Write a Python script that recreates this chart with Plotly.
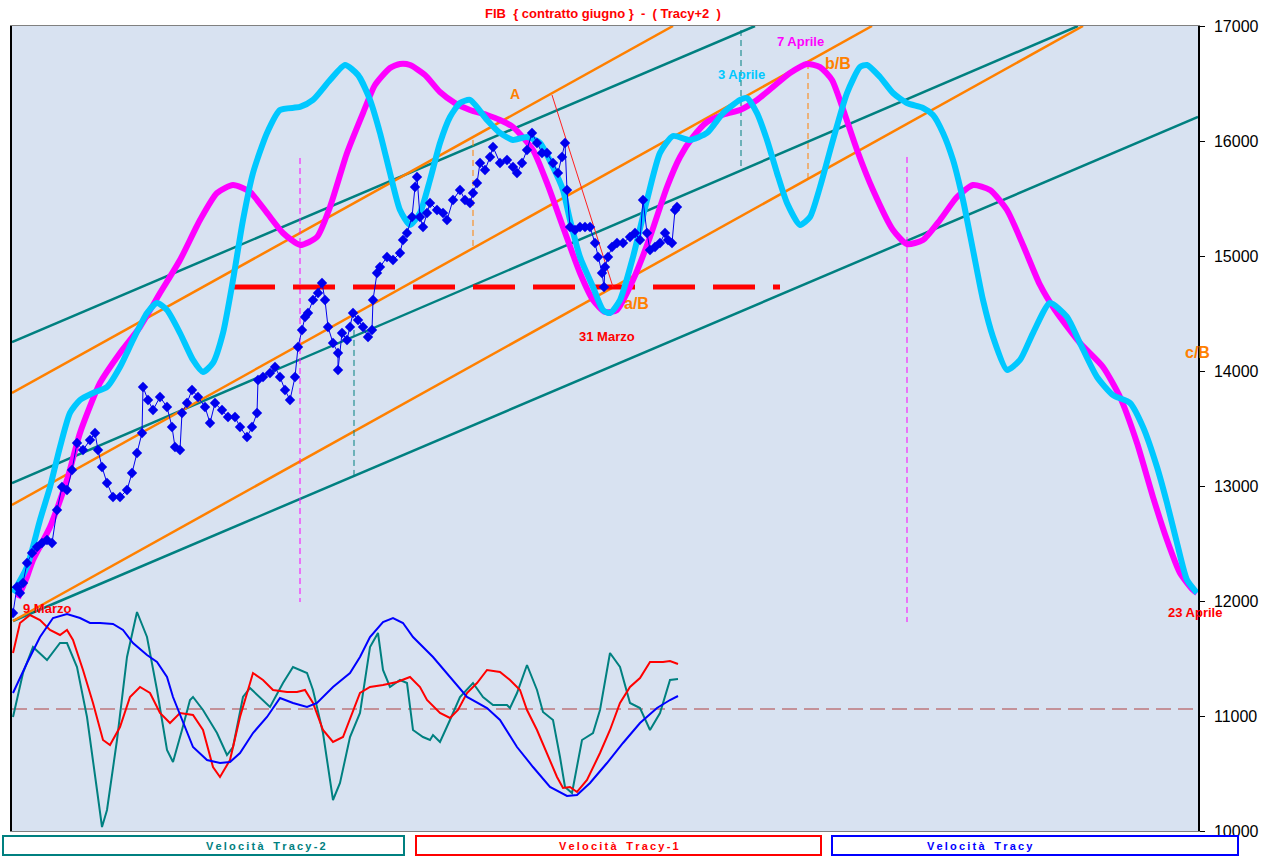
import plotly.graph_objects as go

# ---------------- data (x = session index along the chart, y = price) ----------------
mag_x = [18, 27, 33, 50, 67, 80, 100, 120, 140, 160, 180, 200, 217, 233, 250, 267, 283, 300, 317, 330,
         347, 363, 375, 390, 400, 410, 425, 440, 455, 470, 487, 500, 513, 533, 547, 563, 580, 593, 605, 617,
         633, 650, 667, 680, 693, 707, 725, 740, 757, 773, 790, 807, 820, 832, 845, 857, 873, 893, 907, 923,
         940, 957, 973, 990, 1007, 1023, 1040, 1055, 1080, 1103, 1120, 1137, 1153, 1167, 1180, 1193, 1197]
mag_y = [12026, 12209, 12357, 12643, 13052, 13461, 13896, 14157, 14383, 14678, 14965, 15313, 15548, 15617, 15557,
         15374, 15200, 15096, 15165, 15426, 15896, 16243, 16487, 16635, 16670, 16661, 16574, 16426, 16330, 16270,
         16226, 16183, 16122, 15922, 15635, 15252, 14852, 14617, 14513, 14530, 14791, 15165, 15600, 15861, 16035,
         16165, 16235, 16270, 16357, 16470, 16591, 16670, 16643, 16530, 16226, 15922, 15574, 15226, 15104, 15139,
         15313, 15513, 15617, 15574, 15400, 15096, 14748, 14530, 14243, 14035, 13774, 13374, 12904, 12530, 12243,
         12096, 12070]

cyan_x = [13, 27, 40, 50, 60, 70, 80, 93, 107, 120, 133, 147, 157, 167, 180, 193, 203, 213, 223, 233,
          243, 253, 267, 280, 300, 313, 330, 345, 358, 370, 380, 390, 400, 410, 420, 430, 440, 450, 460, 470,
          487, 500, 513, 527, 540, 553, 563, 570, 580, 593, 603, 610, 620, 633, 647, 660, 673, 690, 707, 723,
          740, 747, 757, 767, 777, 787, 800, 810, 820, 833, 847, 860, 867, 880, 893, 907, 923, 933, 943, 953,
          963, 973, 983, 993, 1007, 1020, 1033, 1050, 1067, 1080, 1097, 1113, 1130, 1143, 1157, 1167, 1177,
          1187, 1197]
cyan_y = [12070, 12296, 12704, 12991, 13339, 13635, 13748, 13809, 13861, 14035, 14270, 14504, 14591, 14530, 14330,
          14096, 13991, 14070, 14330, 14791, 15313, 15722, 16070, 16270, 16296, 16357, 16530, 16661, 16574, 16357,
          16070, 15722, 15400, 15270, 15374, 15661, 15983, 16209, 16330, 16357, 16183, 16070, 16009, 16035, 15983,
          15774, 15574, 15313, 14991, 14730, 14530, 14504, 14617, 14991, 15487, 15896, 16043, 16009, 16070, 16243,
          16357, 16374, 16243, 16009, 15722, 15461, 15270, 15339, 15600, 16009, 16417, 16643, 16661, 16557, 16417,
          16330, 16287, 16226, 16070, 15835, 15487, 15052, 14617, 14296, 14009, 14096, 14330, 14591, 14470, 14243,
          13948, 13791, 13722, 13513, 13165, 12852, 12504, 12183, 12070]

price_x = [13, 17, 20, 23, 27, 32, 37, 42, 47, 52, 57, 62, 67, 72, 77, 83, 90, 95, 98, 102, 107, 113, 120, 127,
           132, 137, 142, 143, 148, 153, 160, 167, 172, 175, 180, 182, 187, 192, 198, 205, 210, 215, 222, 228,
           235, 240, 247, 252, 257, 258, 263, 270, 275, 280, 285, 290, 295, 298, 302, 305, 308, 313, 318, 322,
           325, 328, 333, 338, 338, 342, 347, 350, 353, 358, 363, 368, 372, 373, 377, 380, 387, 393, 400, 403,
           407, 412, 415, 417, 420, 423, 427, 430, 437, 443, 447, 453, 460, 465, 470, 473, 477, 480, 485, 490,
           493, 500, 507, 513, 517, 522, 527, 532, 537, 542, 547, 553, 558, 562, 565, 567, 570, 575, 580, 585,
           590, 595, 598, 602, 604, 605, 608, 612, 617, 623, 630, 635, 640, 643, 647, 650, 655, 660, 665, 668,
           672, 675, 677]
price_y = [11896, 12122, 12070, 12157, 12330, 12417, 12470, 12504, 12530, 12504, 12791, 12991, 12965, 13139, 13374,
           13313, 13400, 13461, 13313, 13165, 13026, 12904, 12904, 12965, 13113, 13287, 13461, 13861, 13748, 13661,
           13774, 13687, 13513, 13339, 13313, 13635, 13722, 13835, 13774, 13687, 13548, 13722, 13661, 13600, 13600,
           13513, 13426, 13513, 13635, 13922, 13948, 13983, 14035, 13948, 13835, 13748, 13948, 14209, 14357, 14470,
           14504, 14617, 14678, 14765, 14617, 14383, 14243, 14157, 14009, 14330, 14270, 14383, 14504, 14443, 14383,
           14296, 14357, 14617, 14852, 14904, 14991, 14965, 15026, 15139, 15200, 15339, 15600, 15687, 15339, 15252,
           15374, 15461, 15400, 15374, 15313, 15487, 15574, 15487, 15461, 15548, 15635, 15809, 15748, 15861, 15948,
           15809, 15835, 15774, 15722, 15809, 15922, 16070, 15983, 15896, 15896, 15809, 15722, 15861, 15983, 15574,
           15252, 15226, 15252, 15252, 15252, 15113, 14991, 14852, 14730, 14904, 14991, 15078, 15113, 15113, 15165,
           15200, 15139, 15487, 15200, 15052, 15078, 15113, 15200, 15139, 15113, 15400, 15426]

# velocity oscillators (arbitrary units, 0 = dashed reference line)
vel_blue_x = [13, 27, 40, 53, 67, 80, 90, 100, 113, 123, 133, 147, 157, 167, 173, 183, 193, 207, 220, 230, 240,
              253, 267, 280, 293, 307, 317, 333, 350, 360, 370, 383, 393, 403, 413, 433, 450, 467, 487, 500, 517,
              533, 550, 567, 577, 590, 607, 623, 640, 657, 670, 678]
vel_blue_y = [16, 46, 72, 91, 95, 91, 86, 86, 85, 79, 66, 54, 47, 32, 12, -14, -38, -51, -54, -53, -44,
              -24, -8, 11, 6, 2, 6, 22, 36, 52, 72, 87, 91, 86, 72, 52, 32, 12, 1, -11, -38,
              -58, -78, -87, -86, -74, -54, -34, -14, 1, 9, 13]

vel_red_x = [13, 20, 30, 40, 50, 60, 67, 73, 83, 93, 103, 110, 120, 130, 140, 150, 160, 170, 180, 193, 203, 213,
             220, 230, 240, 253, 263, 273, 287, 297, 305, 313, 323, 333, 343, 353, 360, 370, 383, 397, 410, 420,
             427, 440, 450, 458, 467, 477, 487, 500, 510, 520, 527, 537, 547, 557, 563, 570, 577, 587, 600, 610,
             620, 630, 640, 650, 663, 670, 678]
vel_red_y = [56, 86, 94, 89, 79, 74, 79, 69, 39, 6, -31, -36, -18, 12, 22, 16, -4, -14, -4, -6, -21, -58,
             -68, -51, -8, 36, 29, 19, 17, 17, 19, 6, -21, -33, -28, -1, 16, 22, 24, 27, 32, 22,
             9, -4, -9, -1, 16, 26, 39, 37, 29, 19, -1, -21, -44, -68, -79, -78, -83, -71, -44, -21,
             6, 22, 31, 47, 47, 48, 45]

vel_teal_x = [13, 23, 33, 47, 60, 67, 77, 87, 97, 102, 107, 117, 127, 137, 147, 157, 167, 173, 182, 190, 193, 203,
              217, 227, 233, 243, 250, 260, 270, 283, 293, 307, 313, 323, 333, 340, 350, 360, 370, 378, 383, 390,
              400, 407, 413, 423, 430, 433, 440, 450, 460, 473, 483, 493, 507, 510, 517, 527, 537, 543, 553, 560,
              565, 572, 582, 593, 600, 610, 620, 630, 640, 650, 660, 670, 678]
vel_teal_y = [-8, 36, 62, 49, 66, 66, 42, -8, -81, -118, -101, -31, 52, 97, 72, 19, -41, -53, -21, 9, 12, -1,
              -24, -46, -38, 12, 21, 11, 2, 26, 42, 36, 19, -24, -91, -74, -28, -4, 62, 76, 39, 22,
              29, 26, -21, -28, -31, -26, -33, -11, 12, 26, 12, 4, 4, 1, 16, 44, 19, -3, -11, -48,
              -78, -84, -31, -24, -1, 56, 42, 6, 1, -21, -4, 29, 30]

# trend channels: (x0, y0, x1, y1)
teal_channels = [(12, 14252, 755, 17000), (12, 13026, 1078, 17000), (13, 11826, 1198, 16209)]
orange_channels = [(12, 13809, 673, 17000), (12, 12835, 872, 17000), (13, 11826, 1083, 17000)]

support_level = 14730
support_x = [233, 780]
wave_a_line = [(552, 16400), (613, 14730)]

# vertical markers: (x, y_top, y_bottom, colour)
vmarks = [(300, 15852, 11991, "#ff00ff"), (354, 14357, 13096, "#008080"), (473, 16009, 15070, "#ff8000"),
          (741, 16965, 15765, "#008080"), (808, 16678, 15678, "#ff8000"), (907, 15861, 11817, "#ff00ff")]

# labels: (text, x, y, colour, size)
labels = [("A", 515, 16409, "#ff8000", 14), ("a/B", 636, 14591, "#ff8000", 16),
          ("31 Marzo", 607, 14304, "#ff0000", 13), ("3 Aprile", 741, 16574, "#00c8ff", 13),
          ("7 Aprile", 800, 16861, "#ff00ff", 13), ("8 Aprile", 852, 17087, "#00c8ff", 13),
          ("b/B", 838, 16670, "#ff8000", 16), ("c/B", 1197, 14157, "#ff8000", 16),
          ("23 Aprile", 1195, 11904, "#ff0000", 13), ("9 Marzo", 47, 11939, "#ff0000", 13)]

y_ticks = [10000, 11000, 12000, 13000, 14000, 15000, 16000, 17000]
legend_names = ["Velocità Tracy-2", "Velocità Tracy-1", "Velocità Tracy"]
legend_colors = ["#008080", "#ff0000", "#0000ff"]

# ---------------- figure ----------------
fig = go.Figure()

for (x0, y0, x1, y1) in teal_channels:
    fig.add_trace(go.Scatter(x=[x0, x1], y=[y0, y1], mode="lines",
                             line=dict(color="#008080", width=2.5), hoverinfo="skip"))
for (x0, y0, x1, y1) in orange_channels:
    fig.add_trace(go.Scatter(x=[x0, x1], y=[y0, y1], mode="lines",
                             line=dict(color="#ff8000", width=2.5), hoverinfo="skip"))

for (vx, yt, yb, c) in vmarks:
    fig.add_trace(go.Scatter(x=[vx, vx], y=[yt, yb], mode="lines",
                             line=dict(color=c, width=1, dash="6px,4px"), hoverinfo="skip"))

# oscillators on hidden secondary axis
fig.add_trace(go.Scatter(x=[12, 1198], y=[0, 0], mode="lines", yaxis="y2",
                         line=dict(color="#b04040", width=1, dash="15px,7px"), hoverinfo="skip"))
fig.add_trace(go.Scatter(x=vel_teal_x, y=vel_teal_y, mode="lines", yaxis="y2",
                         line=dict(color="#008080", width=2)))
fig.add_trace(go.Scatter(x=vel_red_x, y=vel_red_y, mode="lines", yaxis="y2",
                         line=dict(color="#ff0000", width=2)))
fig.add_trace(go.Scatter(x=vel_blue_x, y=vel_blue_y, mode="lines", yaxis="y2",
                         line=dict(color="#0000ff", width=2)))

fig.add_trace(go.Scatter(x=support_x, y=[support_level, support_level], mode="lines",
                         line=dict(color="#ff0000", width=5, dash="42px,18px"), hoverinfo="skip"))

fig.add_trace(go.Scatter(x=mag_x, y=mag_y, mode="lines",
                         line=dict(color="#ff00ff", width=6, shape="spline", smoothing=0.6)))
fig.add_trace(go.Scatter(x=cyan_x, y=cyan_y, mode="lines",
                         line=dict(color="#00c8ff", width=6, shape="spline", smoothing=0.6)))

fig.add_trace(go.Scatter(x=[p[0] for p in wave_a_line], y=[p[1] for p in wave_a_line], mode="lines",
                         line=dict(color="#ff2020", width=1), hoverinfo="skip"))

fig.add_trace(go.Scatter(x=price_x, y=price_y, mode="lines+markers",
                         line=dict(color="#0000ee", width=1),
                         marker=dict(symbol="diamond", size=8, color="#0000ee")))

for (t, lx, ly, c, s) in labels:
    fig.add_annotation(x=lx, y=ly, text="<b>%s</b>" % t, showarrow=False,
                       font=dict(color=c, size=s, family="Liberation Sans, Arial"))

fig.add_annotation(xref="paper", yref="paper", x=0.498, y=1.016, yanchor="middle",
                   text="<b>FIB  { contratto giugno }  -  ( Tracy+2  )</b>", showarrow=False,
                   font=dict(color="#ff0000", size=13, family="Liberation Sans, Arial"))

W = 1186.0
H = 805.0
boxes = [(3, 404), (416, 821), (832, 1238)]
for (bx0, bx1), name, col in zip(boxes, legend_names, legend_colors):
    fig.add_shape(type="rect", xref="paper", yref="paper",
                  x0=(bx0 - 12) / W, x1=(bx1 - 12) / W,
                  y0=(831 - 855) / H, y1=(831 - 836) / H,
                  line=dict(color=col, width=2), fillcolor="white")
    spaced = "\u2009".join(list(name)).replace("\u2009 \u2009", "\u2009\u2009 \u2009")
    fig.add_annotation(xref="paper", yref="paper", x=((bx0 + bx1) / 2 - 12) / W,
                       y=(831 - 845.5) / H, yanchor="middle", showarrow=False,
                       text="<b>%s</b>" % spaced,
                       font=dict(color=col, size=11, family="Liberation Sans, Arial"))

fig.update_layout(
    width=1264, height=857, autosize=False,
    margin=dict(l=12, r=66, t=26, b=26, autoexpand=False),
    paper_bgcolor="white",
    plot_bgcolor="#d8e2f1",
    showlegend=False,
    xaxis=dict(range=[12, 1198], showgrid=False, zeroline=False, showticklabels=False,
               automargin=False,
               ticks="", showline=True, linecolor="#808080", linewidth=1, mirror=True),
    yaxis=dict(range=[10000, 17000], side="right", tickvals=y_ticks, automargin=False,
               ticktext=[str(v) for v in y_ticks], showgrid=False, zeroline=False,
               ticks="outside", ticklen=5, tickcolor="black", ticklabelstandoff=6,
               showline=True, linecolor="black", linewidth=1.5, mirror=True,
               tickfont=dict(family="Liberation Sans, Arial", size=16, color="black")),
    yaxis2=dict(range=[-122, 683], overlaying="y", visible=False),
)

post = ("document.body.style.margin='0px';"
        "document.documentElement.style.overflow='hidden';"
        "document.body.style.overflow='hidden';"
        "var gd=document.getElementById('{plot_id}');"
        "gd.style.width='1264px';gd.style.height='857px';"
        "Plotly.relayout(gd,{width:1264,height:857});")

fig.write_html("out.html", post_script=post,
               config={"responsive": False, "displayModeBar": False})
